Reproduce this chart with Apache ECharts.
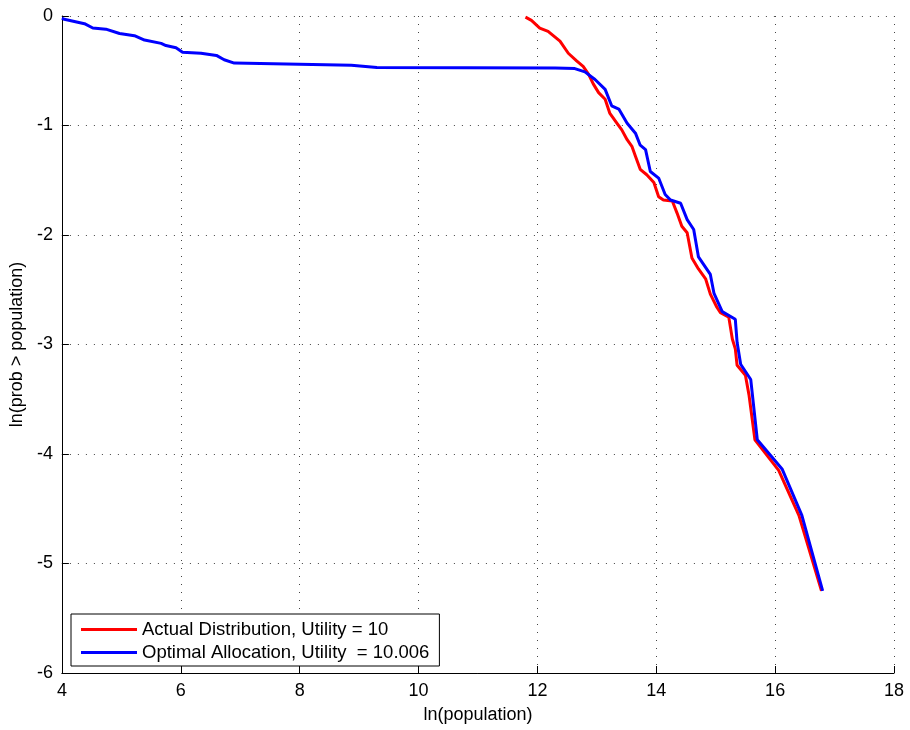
<!DOCTYPE html>
<html>
<head>
<meta charset="utf-8">
<script src="https://cdn.jsdelivr.net/npm/echarts@6/dist/echarts.min.js"></script>
<style>
  html, body { margin: 0; padding: 0; background: #fff; }
  #main { width: 910px; height: 730px; }
</style>
</head>
<body>
<div id="main"></div>
<script>
// [ln(population), ln(prob > population)]
var actualData = [
  [11.80, -0.01], [11.90, -0.04], [12.04, -0.11], [12.18, -0.14], [12.38, -0.23],
  [12.52, -0.34], [12.66, -0.41], [12.77, -0.46], [12.86, -0.53], [12.94, -0.62],
  [13.03, -0.70], [13.14, -0.76], [13.22, -0.89], [13.34, -0.98], [13.42, -1.04],
  [13.51, -1.13], [13.59, -1.19], [13.65, -1.28], [13.73, -1.40], [13.84, -1.45],
  [13.96, -1.52], [14.04, -1.65], [14.12, -1.68], [14.27, -1.69], [14.35, -1.80],
  [14.43, -1.92], [14.52, -1.98], [14.60, -2.21], [14.71, -2.31], [14.83, -2.40],
  [14.91, -2.54], [15.02, -2.66], [15.08, -2.71], [15.22, -2.75], [15.28, -2.95],
  [15.33, -3.04], [15.36, -3.19], [15.50, -3.28], [15.56, -3.46], [15.66, -3.87],
  [16.06, -4.15], [16.40, -4.56], [16.78, -5.25]
];
var optimalData = [
  [4.00, -0.02], [4.04, -0.03], [4.38, -0.07], [4.52, -0.11], [4.74, -0.12],
  [4.97, -0.16], [5.22, -0.18], [5.39, -0.22], [5.67, -0.25], [5.75, -0.27],
  [5.92, -0.29], [6.03, -0.33], [6.34, -0.34], [6.60, -0.36], [6.73, -0.40],
  [6.90, -0.43], [8.87, -0.45], [9.30, -0.47], [12.30, -0.475], [12.63, -0.48],
  [12.80, -0.51], [12.97, -0.58], [13.14, -0.67], [13.25, -0.82], [13.37, -0.85],
  [13.51, -0.98], [13.65, -1.07], [13.73, -1.18], [13.82, -1.22], [13.90, -1.42],
  [14.04, -1.48], [14.15, -1.63], [14.24, -1.68], [14.41, -1.71], [14.52, -1.86],
  [14.63, -1.95], [14.71, -2.20], [14.91, -2.36], [14.97, -2.53], [15.11, -2.70],
  [15.33, -2.77], [15.36, -2.98], [15.42, -3.18], [15.59, -3.32], [15.70, -3.87],
  [16.12, -4.14], [16.45, -4.56], [16.80, -5.25]
];
var seriesNames = ['Actual Distribution, Utility = 10', 'Optimal Allocation, Utility  = 10.006'];
var seriesColors = ['#ff0000', '#0000ff'];

var font = 'Liberation Sans, Arial, sans-serif';
var chart = echarts.init(document.getElementById('main'), null, { renderer: 'canvas' });

var gridLine = { show: true, lineStyle: { color: '#444', width: 1, type: [1, 7] } };

var option = {
  animation: false,
  backgroundColor: '#fff',
  grid: { left: 61, right: 16, top: 16, bottom: 57 },
  legend: {
    orient: 'vertical',
    left: 71,
    top: 614,
    padding: [6, 10, 4, 10],
    itemGap: 4,
    itemWidth: 56,
    itemHeight: 3,
    icon: 'rect',
    borderColor: '#000',
    borderWidth: 1,
    borderRadius: 0,
    backgroundColor: '#fff',
    textStyle: { fontFamily: font, fontSize: 18.5, color: '#000' },
    data: seriesNames
  },
  xAxis: {
    type: 'value',
    min: 4, max: 18, interval: 2,
    name: 'ln(population)',
    nameLocation: 'middle',
    nameGap: 33,
    nameTextStyle: { fontFamily: font, fontSize: 18, color: '#000' },
    axisLine: { show: true, onZero: false, lineStyle: { color: '#000', width: 1 } },
    axisTick: { show: true, inside: true, length: 7, lineStyle: { color: '#000' } },
    axisLabel: { fontFamily: font, fontSize: 18, color: '#000', margin: 9 },
    splitLine: gridLine
  },
  yAxis: {
    type: 'value',
    min: -6, max: 0, interval: 1,
    name: 'ln(prob > population)',
    nameLocation: 'middle',
    nameRotate: 90,
    nameGap: 31,
    nameTextStyle: { fontFamily: font, fontSize: 18, color: '#000' },
    axisLine: { show: true, onZero: false, lineStyle: { color: '#000', width: 1 } },
    axisTick: { show: true, inside: true, length: 7, lineStyle: { color: '#000' } },
    axisLabel: { fontFamily: font, fontSize: 18, color: '#000', margin: 9 },
    splitLine: gridLine
  },
  series: [
    {
      name: seriesNames[0],
      type: 'line',
      data: actualData,
      showSymbol: false,
      symbol: 'none',
      color: seriesColors[0],
      lineStyle: { color: seriesColors[0], width: 3 },
      z: 2
    },
    {
      name: seriesNames[1],
      type: 'line',
      data: optimalData,
      showSymbol: false,
      symbol: 'none',
      color: seriesColors[1],
      lineStyle: { color: seriesColors[1], width: 3 },
      z: 3
    }
  ]
};

chart.setOption(option);
</script>
</body>
</html>
